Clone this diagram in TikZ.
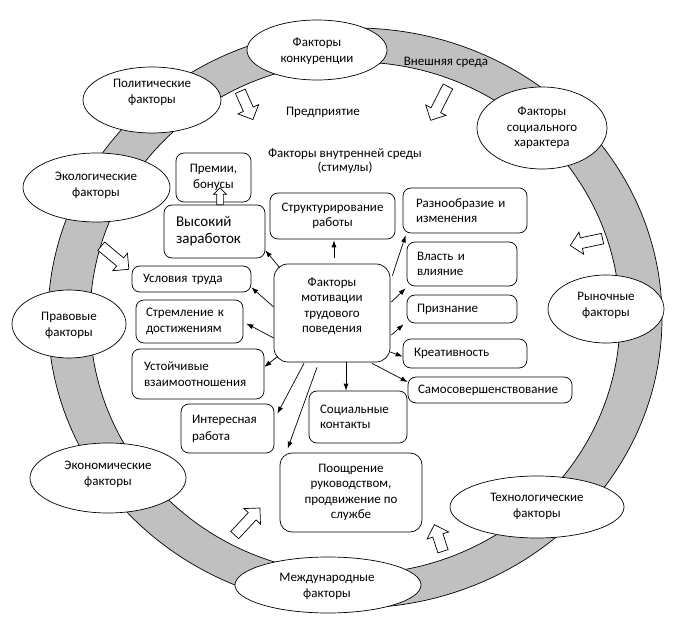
\documentclass[tikz,border=0pt]{standalone}
\usepackage{fontspec}
\setmainfont{Carlito}
\usetikzlibrary{shapes.geometric,shapes.arrows,arrows.meta,calc}
\definecolor{ringgray}{RGB}{192,192,192}
\begin{document}
\begin{tikzpicture}[x=1pt,y=-1pt,
  every node/.style={font=\fontsize{13}{15.5}\selectfont},
  fac/.style={ellipse,draw,fill=white,inner sep=0pt,line width=0.7pt},
  ftxt/.style={align=center,inner sep=0pt},
  box/.style={draw,fill=white,rounded corners=8pt,inner ysep=0pt,line width=0.7pt},
  lbox/.style={box,align=left},
  cbox/.style={box,align=center},
  blk/.style={single arrow,draw,fill=white,inner sep=5pt,single arrow head extend=6pt,minimum width=0pt,line width=0.7pt},
  con/.style={-{Latex[length=7pt,width=5pt]},line width=0.7pt}
]
\useasboundingbox (0,0) rectangle (673,623);
% ring
\fill[ringgray,even odd rule] (355,318) ellipse [x radius=307,y radius=290] (355,318) ellipse [x radius=265,y radius=256];
\draw[line width=0.7pt] (355,318) ellipse [x radius=307,y radius=290];
\draw[line width=0.7pt] (355,318) ellipse [x radius=265,y radius=256];

% external factor ellipses
\node[fac,minimum width=140pt,minimum height=60pt] (e1) at (317,50) {};
\node[ftxt] (t1) at (317,51) {Факторы\\конкуренции};
\node[fac,minimum width=138pt,minimum height=66pt] (e2) at (152,100) {};
\node[ftxt] (t2) at (152,92.5) {Политические\\факторы};
\node[fac,minimum width=147pt,minimum height=69pt] (e3) at (96.5,187.5) {};
\node[ftxt] (t3) at (96,185.5) {Экологические\\факторы};
\node[fac,minimum width=114pt,minimum height=68pt] (e4) at (69,324) {};
\node[ftxt] (t4) at (69,325.5) {Правовые\\факторы};
\node[fac,minimum width=156pt,minimum height=70pt] (e5) at (108,478) {};
\node[ftxt] (t5) at (108,474.5) {Экономические\\факторы};
\node[fac,minimum width=186pt,minimum height=56pt] (e6) at (328,585) {};
\node[ftxt] (t6) at (327,586.5) {Международные\\факторы};
\node[fac,minimum width=174pt,minimum height=62pt] (e7) at (537,507) {};
\node[ftxt] (t7) at (537,506.5) {Технологические\\факторы};
\node[fac,minimum width=116pt,minimum height=68pt] (e8) at (606,309) {};
\node[ftxt] (t8) at (606,305.5) {Рыночные\\факторы};
\node[fac,minimum width=130pt,minimum height=82pt] (e9) at (542,128) {};
\node[ftxt] (t9) at (542,128) {Факторы\\социального\\характера};

% labels
\node (ext) at (446,62) {Внешняя среда};
\node (ent) at (323,112) {Предприятие};
\node[align=center,font=\fontsize{13}{14}\selectfont] (int) at (345,161) {Факторы внутренней среды\\(стимулы)};

% block arrows from the environment
\node[blk,minimum height=31pt,rotate=-66] (ba1) at (245.5,103) {};
\node[blk,minimum height=36pt,rotate=-40] (ba2) at (113,256) {};
\node[blk,minimum height=38pt,rotate=-117] (ba3) at (440.5,101) {};
\node[blk,minimum height=33pt,rotate=192] (ba4) at (589,241.5) {};
\node[blk,minimum height=37pt,rotate=47] (ba5) at (245.5,523.5) {};
\node[blk,minimum height=28pt,rotate=108] (ba6) at (439.5,540.5) {};

% boxes
\node[cbox,minimum width=75pt,minimum height=49pt,inner xsep=0pt] (A) at (213.5,177.5) {Премии,\\бонусы};
\node[lbox,minimum width=101pt,minimum height=53pt,inner xsep=12pt,text width=77pt,font=\fontsize{15}{17}\selectfont] (B) at (214.5,231.5) {Высокий\\заработок};
\node[cbox,minimum width=125pt,minimum height=46pt,inner xsep=0pt] (C) at (332.5,216) {Структурирование\\работы};
\node[lbox,minimum width=124pt,minimum height=45pt,inner xsep=13pt,text width=98pt] (D) at (465,210.5) {Разнообразие и\\изменения};
\node[lbox,minimum width=110pt,minimum height=44pt,inner xsep=10pt,text width=90pt] (E) at (462,264) {Власть и\\влияние};
\node[lbox,minimum width=110pt,minimum height=28pt,inner xsep=10pt,text width=90pt] (F) at (462,309) {Признание};
\node[lbox,minimum width=124pt,minimum height=29pt,inner xsep=11pt,text width=102pt] (G) at (465,353.5) {Креативность};
\node[lbox,minimum width=164pt,minimum height=26pt,inner xsep=10pt,text width=144pt] (H) at (490,390) {Самосовершенствование};
\node[lbox,minimum width=119pt,minimum height=26pt,inner xsep=11pt,text width=97pt] (I) at (191.5,279) {Условия труда};
\node[lbox,minimum width=107pt,minimum height=43pt,inner xsep=10pt,text width=87pt] (J) at (189.5,321.5) {Стремление к\\достижениям};
\node[lbox,minimum width=132pt,minimum height=50pt,inner xsep=12pt,text width=108pt] (K) at (198,374) {Устойчивые\\взаимоотношения};
\node[lbox,minimum width=93pt,minimum height=49pt,inner xsep=11pt,text width=71pt,font=\fontsize{13}{17}\selectfont] (L) at (227.5,428.5) {Интересная\\работа};
\node[lbox,minimum width=98pt,minimum height=52pt,inner xsep=11pt,text width=76pt] (M) at (358,417) {Социальные\\контакты};
\node[cbox,minimum width=142pt,minimum height=79pt,inner xsep=0pt,rounded corners=12pt] (N) at (351,492.5) {Поощрение\\руководством,\\продвижение по\\службе};
\node[box,minimum width=116pt,minimum height=98pt,inner xsep=0pt,rounded corners=14pt] (mot) at (332,313) {};
\node[ftxt] (motT) at (332,306) {Факторы\\мотивации\\трудового\\поведения};

% small block arrow
\node[single arrow,draw,fill=white,inner sep=3pt,single arrow head extend=3pt,minimum width=0pt,minimum height=17pt,rotate=90,line width=0.7pt] (bs) at (220,198) {};

% connectors
\draw[con] ($(mot.north west)+(6,4)$) -- ($(B.south east)+(0,-8)$);
\draw[con] ($(mot.west)+(0,-6)$) -- ($(I.south east)+(0,-5)$);
\draw[con] ($(mot.west)+(0,25)$) -- ($(J.east)+(3,2)$);
\draw[con] ($(mot.south west)+(4,-6)$) -- ($(K.east)+(0,-7)$);
\draw[con] ($(mot.south)+(-28,1)$) -- ($(L.north east)+(3,10)$);
\draw[con] ($(mot.south)+(-15,5)$) -- ($(N.north west)+(8,-4)$);
\draw[con] ($(mot.south)+(14,0)$) -- ($(M.north)+(-12,0)$);
\draw[con] ($(mot.south)+(40,1)$) -- ($(H.west)+(0,-8)$);
\draw[con] ($(mot.east)+(0,39)$) -- ($(G.west)+(0,3)$);
\draw[con] ($(mot.east)+(1,22)$) -- ($(F.south west)+(-3,1)$);
\draw[con] ($(mot.east)+(1,-11)$) -- ($(E.south west)+(-1,2)$);
\draw[con] ($(mot.north east)+(2,12)$) -- ($(D.south west)+(3,2)$);
\draw[con] ($(mot.north)+(2,-6)$) -- ($(C.south)+(1.5,1)$);
\end{tikzpicture}
\end{document}
